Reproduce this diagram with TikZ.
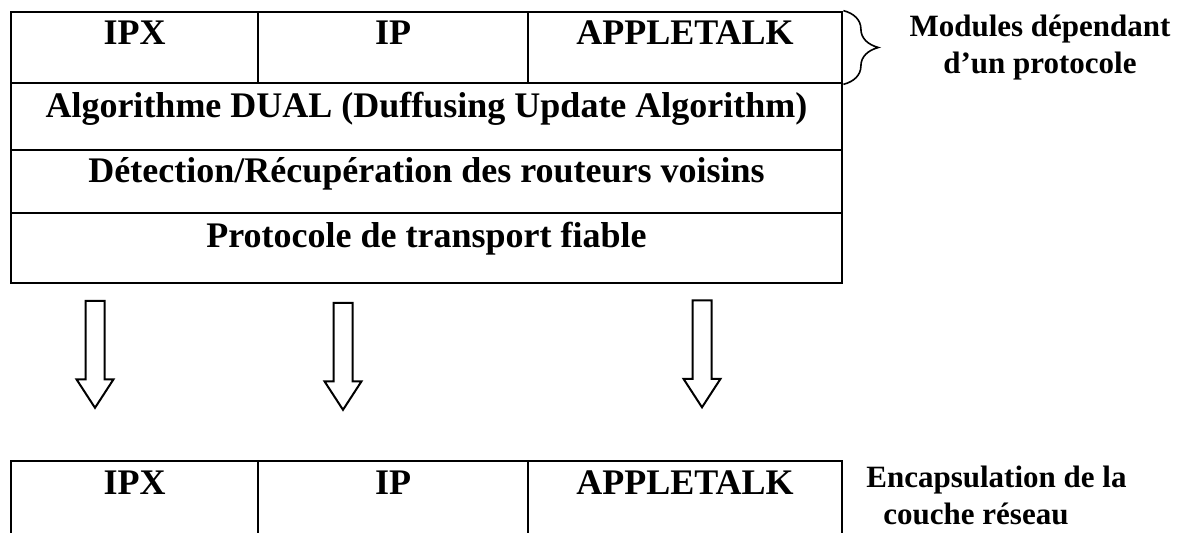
\documentclass[tikz,border=0pt]{standalone}
\usepackage{fontspec}
\setmainfont{Liberation Serif}
\usepackage{tikz}
\usetikzlibrary{positioning,shapes.arrows,decorations.pathreplacing}

\tikzset{
  cell/.style = {draw, line width = 1.4pt, inner sep = 0pt,
    font = \fontsize{18}{21}\selectfont\bfseries},
  downarrow/.style = {draw, line width = 1pt, shape = single arrow,
    shape border rotate = 270, inner xsep = 4.25pt, inner ysep = 0pt,
    minimum height = 53.5pt,
    single arrow head extend = 4.5pt, single arrow tip angle = 66},
  note/.style = {anchor = base, inner sep = 0pt,
    font = \fontsize{15.5}{18}\selectfont\bfseries},
  bracket/.style = {decorate, decoration = {brace, amplitude = 17.5pt},
    line width = 0.8pt}
}

\begin{document}
\begin{tikzpicture}[x = 0.5pt, y = -0.5pt]
  \useasboundingbox (0, 0) rectangle (1178, 533);

  \node[cell, minimum width = 123.5pt, text height = 16.5pt, text depth = 19pt]
    (IPX) at (134.5, 47.5) {IPX};

  \node[cell, minimum width = 135pt, text height = 16.5pt, text depth = 19pt]
    (IP) at (393, 47.5) {IP};

  \node[cell, minimum width = 157pt, text height = 16.5pt, text depth = 19pt]
    (APL) at (685, 47.5) {APPLETALK};

  \node[cell, minimum width = 415.5pt, text height = 17.5pt, text depth = 16pt]
    (DUAL) at (426.5, 116.5) {Algorithme DUAL (Duffusing Update Algorithm)};

  \node[cell, minimum width = 415.5pt, text height = 16.5pt, text depth = 15pt]
    (NBR) at (426.5, 181.5) {Détection/Récupération des routeurs voisins};

  \node[cell, minimum width = 415.5pt, text height = 17.5pt, text depth = 17.5pt]
    (RTP) at (426.5, 248) {Protocole de transport fiable};

  \node[downarrow] (A1) at (95, 347) {};

  \node[downarrow] (A2) at (343, 349) {};

  \node[downarrow] (A3) at (702, 346.5) {};

  \node[cell, minimum width = 123.5pt, text height = 17pt, text depth = 20.5pt]
    (IPXb) at (134.5, 498.5) {IPX};

  \node[cell, minimum width = 135pt, text height = 17pt, text depth = 20.5pt]
    (IPb) at (393, 498.5) {IP};

  \node[cell, minimum width = 157pt, text height = 17pt, text depth = 20.5pt]
    (APLb) at (685, 498.5) {APPLETALK};

  \draw[bracket] (APL.north east) -- (APL.south east);

  \node[note] (MOD1) at (1040, 37) {Modules dépendant};

  \node[note] (MOD2) at (1040, 74) {d’un protocole};

  \node[note, anchor = base west] (ENC1) at (866, 488) {Encapsulation de la};

  \node[note, anchor = base west] (ENC2) at (883, 525) {couche réseau};
\end{tikzpicture}
\end{document}
